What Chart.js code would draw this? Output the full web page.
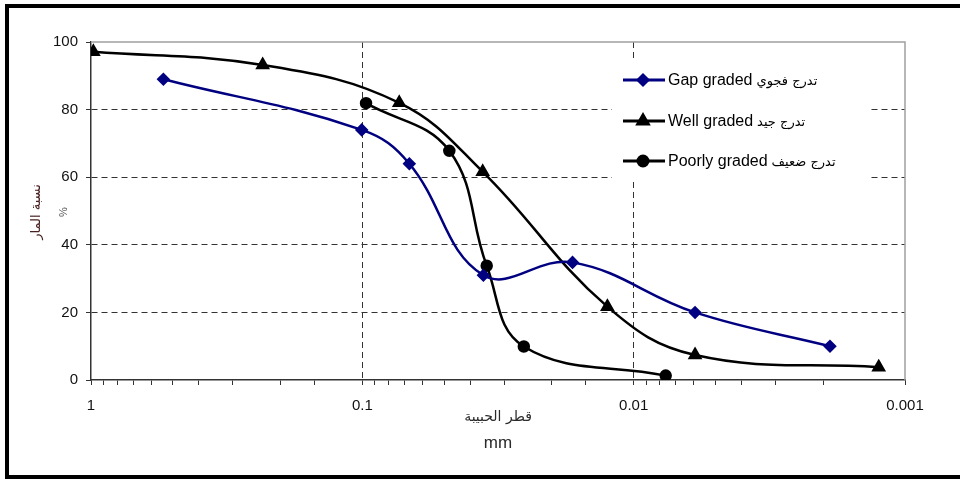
<!DOCTYPE html>
<html lang="ar">
<head>
<meta charset="UTF-8">
<title>Grain size distribution</title>
<script src="https://cdn.jsdelivr.net/npm/chart.js"></script>
<style>
    html, body { margin: 0; padding: 0; background: #fff; }
    #wrap { width: 960px; height: 479px; }
</style>
</head>
<body>
<div id="wrap"><canvas id="chart" width="960" height="479"></canvas></div>
<script>
// grain size (mm) and percent passing
const gapSize = [0.541, 0.1005, 0.0671, 0.0358, 0.0168, 0.00594, 0.00189];
const gapPass = [89, 74, 64, 31, 34.8, 20, 10];

const wellSize = [0.98, 0.233, 0.0731, 0.036, 0.0125, 0.00594, 0.00125];
const wellPass = [97.1, 93.2, 82, 61.6, 21.7, 7.4, 3.8];

const poorSize = [0.0969, 0.0478, 0.0348, 0.0254, 0.00762];
const poorPass = [81.9, 67.8, 33.8, 9.9, 1.3];

const seriesNames = ['Gap graded', 'Well graded', 'Poorly graded'];
const seriesNamesAr = ['تدرج فجوي', 'تدرج جيد', 'تدرج ضعيف'];
const yTicks = [0, 20, 40, 60, 80, 100];
const xTitleAr = 'قطر الحبيبة';
const xTitleUnit = 'mm';
const yTitleAr = 'نسبة المار';

const NAVY = '#000080';
const toPoints = (xs, ys) => xs.map((x, i) => ({ x: x, y: ys[i] }));
const isDecade = v => Math.abs(Math.log10(v) - Math.round(Math.log10(v))) < 1e-6;
const decadeLabel = v => {
    const e = Math.round(Math.log10(v));
    return e >= 0 ? String(Math.pow(10, e)) : Math.pow(10, e).toFixed(-e);
};

const styles = [
    { color: NAVY, point: 'rectRot', radius: 5 },
    { color: '#000', point: 'triangle', radius: 6 },
    { color: '#000', point: 'circle', radius: 5 }
];

// page frame, plot frame, axis titles and the legend box
const decor = {
    id: 'decor',
    beforeDraw(chart) {
        const ctx = chart.ctx;
        ctx.save();
        ctx.fillStyle = '#fff';
        ctx.fillRect(0, 0, chart.width, chart.height);
        ctx.restore();
    },
    afterDraw(chart) {
        const ctx = chart.ctx;
        const a = chart.chartArea;
        ctx.save();

        // grey top and right edge of the plot
        ctx.strokeStyle = '#a0a0a0';
        ctx.lineWidth = 1.5;
        ctx.beginPath();
        ctx.moveTo(a.left, a.top);
        ctx.lineTo(a.right, a.top);
        ctx.lineTo(a.right, a.bottom);
        ctx.stroke();

        // black page frame
        ctx.fillStyle = '#000';
        ctx.fillRect(5, 4, 955, 4);
        ctx.fillRect(5, 4, 4, 475);
        ctx.fillRect(5, 475, 955, 4);

        // legend
        ctx.fillStyle = '#fff';
        ctx.fillRect(612, 58, 256, 122);
        const rows = [80, 121, 161];
        rows.forEach((y, i) => {
            const s = styles[i];
            ctx.strokeStyle = s.color;
            ctx.fillStyle = s.color;
            ctx.lineWidth = 3;
            ctx.beginPath();
            ctx.moveTo(623, y);
            ctx.lineTo(665, y);
            ctx.stroke();
            Chart.helpers.drawPoint(ctx, { pointStyle: s.point, radius: s.radius, borderWidth: 1 }, 643, y);
            ctx.fill();
            ctx.fillStyle = '#000';
            ctx.textBaseline = 'middle';
            ctx.textAlign = 'left';
            ctx.font = '16px "Liberation Sans", Arial, sans-serif';
            ctx.fillText(seriesNames[i], 668, y + 1);
            const w = ctx.measureText(seriesNames[i]).width;
            ctx.font = '13px "DejaVu Sans", sans-serif';
            ctx.fillText(seriesNamesAr[i], 668 + w + 4, y + 2);
        });

        // x axis title
        ctx.fillStyle = '#2a2a2a';
        ctx.textAlign = 'center';
        ctx.textBaseline = 'middle';
        ctx.font = '14px "DejaVu Sans", sans-serif';
        ctx.fillText(xTitleAr, 498, 417);
        ctx.font = '17px "Liberation Sans", Arial, sans-serif';
        ctx.fillText(xTitleUnit, 498, 443);

        // y axis title
        ctx.save();
        ctx.translate(37, 212);
        ctx.rotate(-Math.PI / 2);
        ctx.fillStyle = '#4a2020';
        ctx.font = '13px "DejaVu Sans", sans-serif';
        ctx.fillText(yTitleAr, 0, 0);
        ctx.restore();
        ctx.save();
        ctx.translate(64, 212);
        ctx.rotate(-Math.PI / 2);
        ctx.fillStyle = '#555';
        ctx.font = '11px "Liberation Sans", Arial, sans-serif';
        ctx.fillText('%', 0, 0);
        ctx.restore();

        ctx.restore();
    }
};

const makeSet = (label, xs, ys, s) => ({
    label: label,
    data: toPoints(xs, ys),
    borderColor: s.color,
    backgroundColor: s.color,
    pointBackgroundColor: s.color,
    pointBorderColor: s.color,
    pointStyle: s.point,
    pointRadius: s.radius,
    borderWidth: 2.5,
    tension: 0.4,
    fill: false
});

new Chart(document.getElementById('chart'), {
    type: 'line',
    data: {
        datasets: [
            makeSet(seriesNames[0], gapSize, gapPass, styles[0]),
            makeSet(seriesNames[1], wellSize, wellPass, styles[1]),
            makeSet(seriesNames[2], poorSize, poorPass, styles[2])
        ]
    },
    options: {
        responsive: false,
        animation: false,
        devicePixelRatio: 1,
        layout: { padding: { left: 0, top: 42, right: 55, bottom: 0 } },
        plugins: {
            legend: { display: false },
            tooltip: { enabled: false }
        },
        scales: {
            x: {
                type: 'logarithmic',
                reverse: true,
                min: 0.001,
                max: 1,
                afterFit: s => { s.height = 99; },
                border: {
                    color: '#333',
                    width: 1.5,
                    dash: ctx => (ctx.tick && isDecade(ctx.tick.value)) ? [6, 4] : []
                },
                grid: {
                    color: ctx => {
                        if (!ctx.tick) return 'transparent';
                        const v = ctx.tick.value;
                        if (isDecade(v) && v < 0.5 && v > 0.002) return '#333';
                        return 'transparent';
                    },
                    tickColor: '#333',
                    tickLength: 5,
                    lineWidth: 1
                },
                ticks: {
                    autoSkip: false,
                    maxRotation: 0,
                    padding: 12,
                    color: '#111',
                    font: { family: '"Liberation Sans", Arial, sans-serif', size: 15 },
                    callback: v => isDecade(v) ? decadeLabel(v) : ''
                }
            },
            y: {
                min: 0,
                max: 100,
                afterFit: s => { s.width = 91; },
                afterBuildTicks: s => { s.ticks = yTicks.map(v => ({ value: v })); },
                border: {
                    color: '#333',
                    width: 1.5,
                    dash: [6, 4]
                },
                grid: {
                    color: ctx => (ctx.tick && ctx.tick.value > 0 && ctx.tick.value < 100) ? '#333' : 'transparent',
                    tickColor: '#333',
                    tickLength: 5,
                    lineWidth: 1
                },
                ticks: {
                    padding: 8,
                    color: '#111',
                    font: { family: '"Liberation Sans", Arial, sans-serif', size: 15 }
                }
            }
        }
    },
    plugins: [decor]
});
</script>
</body>
</html>
